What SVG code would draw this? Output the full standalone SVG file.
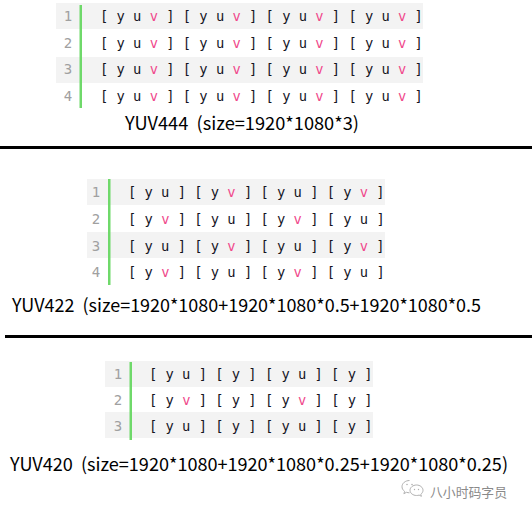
<svg xmlns="http://www.w3.org/2000/svg" width="532" height="514" viewBox="0 0 532 514">
<style>
.band{fill:#f3f3f3}
.gutter{fill:#6fd96a}
.ln{font-family:"DejaVu Sans Mono","Liberation Mono",monospace;font-size:14px;fill:#a0a0a0;text-anchor:middle}
.code{font-family:"DejaVu Sans Mono","Liberation Mono",monospace;font-size:13.75px;fill:#15151f}
.v{fill:#f0478b}
.cap{font-family:"Noto Sans CJK SC","Noto Sans",sans-serif;font-size:18px;fill:#000}
.rule{fill:#000}
.wm{font-family:"Noto Sans CJK SC",sans-serif;font-size:13px;fill:#8a8a8a}
</style>
<rect width="532" height="514" fill="#fff"/>

<g id="yuv444">
  <rect class="band" x="56" y="3" width="367" height="26"/>
  <rect class="band" x="56" y="57" width="367" height="26"/>
  <rect class="gutter" x="79.5" y="5" width="2.5" height="103"/>
  <text class="ln" x="68" y="21">1</text>
  <text class="ln" x="68" y="47.5">2</text>
  <text class="ln" x="68" y="74">3</text>
  <text class="ln" x="68" y="100.5">4</text>
  <text class="code" x="100" y="21" xml:space="preserve">[ y u <tspan class="v">v</tspan> ] [ y u <tspan class="v">v</tspan> ] [ y u <tspan class="v">v</tspan> ] [ y u <tspan class="v">v</tspan> ]</text>
  <text class="code" x="100" y="47.5" xml:space="preserve">[ y u <tspan class="v">v</tspan> ] [ y u <tspan class="v">v</tspan> ] [ y u <tspan class="v">v</tspan> ] [ y u <tspan class="v">v</tspan> ]</text>
  <text class="code" x="100" y="74" xml:space="preserve">[ y u <tspan class="v">v</tspan> ] [ y u <tspan class="v">v</tspan> ] [ y u <tspan class="v">v</tspan> ] [ y u <tspan class="v">v</tspan> ]</text>
  <text class="code" x="100" y="100.5" xml:space="preserve">[ y u <tspan class="v">v</tspan> ] [ y u <tspan class="v">v</tspan> ] [ y u <tspan class="v">v</tspan> ] [ y u <tspan class="v">v</tspan> ]</text>
  <text class="cap" x="125" y="130" textLength="234" lengthAdjust="spacingAndGlyphs" xml:space="preserve">YUV444  (size=1920*1080*3)</text>
</g>
<rect class="rule" x="0" y="146" width="532" height="3"/>

<g id="yuv422">
  <rect class="band" x="87" y="179" width="298" height="26"/>
  <rect class="band" x="87" y="232" width="298" height="26"/>
  <rect class="gutter" x="108" y="179" width="2.5" height="106"/>
  <text class="ln" x="96" y="197">1</text>
  <text class="ln" x="96" y="223.5">2</text>
  <text class="ln" x="96" y="250.5">3</text>
  <text class="ln" x="96" y="277">4</text>
  <text class="code" x="128" y="197" xml:space="preserve">[ y u ] [ y <tspan class="v">v</tspan> ] [ y u ] [ y <tspan class="v">v</tspan> ]</text>
  <text class="code" x="128" y="223.5" xml:space="preserve">[ y <tspan class="v">v</tspan> ] [ y u ] [ y <tspan class="v">v</tspan> ] [ y u ]</text>
  <text class="code" x="128" y="250.5" xml:space="preserve">[ y u ] [ y <tspan class="v">v</tspan> ] [ y u ] [ y <tspan class="v">v</tspan> ]</text>
  <text class="code" x="128" y="277" xml:space="preserve">[ y <tspan class="v">v</tspan> ] [ y u ] [ y <tspan class="v">v</tspan> ] [ y u ]</text>
  <text class="cap" x="12" y="312" textLength="469" lengthAdjust="spacingAndGlyphs" xml:space="preserve">YUV422  (size=1920*1080+1920*1080*0.5+1920*1080*0.5</text>
</g>
<rect class="rule" x="5" y="335" width="527" height="3"/>

<g id="yuv420">
  <rect class="band" x="105" y="361" width="268" height="26"/>
  <rect class="band" x="105" y="412" width="268" height="26"/>
  <rect class="gutter" x="129.5" y="362" width="2.5" height="78"/>
  <text class="ln" x="118" y="379">1</text>
  <text class="ln" x="118" y="405">2</text>
  <text class="ln" x="118" y="431">3</text>
  <text class="code" x="149" y="379" xml:space="preserve">[ y u ] [ y ] [ y u ] [ y ]</text>
  <text class="code" x="149" y="405" xml:space="preserve">[ y <tspan class="v">v</tspan> ] [ y ] [ y <tspan class="v">v</tspan> ] [ y ]</text>
  <text class="code" x="149" y="431" xml:space="preserve">[ y u ] [ y ] [ y u ] [ y ]</text>
  <text class="cap" x="10" y="471" textLength="498" lengthAdjust="spacingAndGlyphs" xml:space="preserve">YUV420  (size=1920*1080+1920*1080*0.25+1920*1080*0.25)</text>
</g>

<g id="watermark">
  <g fill="none" stroke="#b0b0b0" stroke-width="1">
    <path d="M409.5 480.5c-4.2 0-7.5 2.8-7.5 6.2 0 1.9 1 3.5 2.6 4.7l-0.7 2.3 2.6-1.4c1 0.3 2 0.5 3 0.5"/>
    <path d="M416.5 485c3.6 0 6.5 2.4 6.5 5.3 0 1.6-0.9 3-2.2 4l0.6 2-2.3-1.200c-0.8 0.3-1.7 0.4-2.6 0.4-3.6 0-6.5-2.4-6.5-5.2s2.9-5.3 6.5-5.3z"/>
  </g>
  <g fill="#b0b0b0">
    <circle cx="407" cy="484.5" r="0.8"/>
    <circle cx="412" cy="484.5" r="0.8"/>
    <circle cx="414.5" cy="489.5" r="0.7"/>
    <circle cx="418.5" cy="489.5" r="0.7"/>
  </g>
  <text class="wm" x="430" y="497" textLength="77" lengthAdjust="spacingAndGlyphs">八小时码字员</text>
</g>
</svg>
